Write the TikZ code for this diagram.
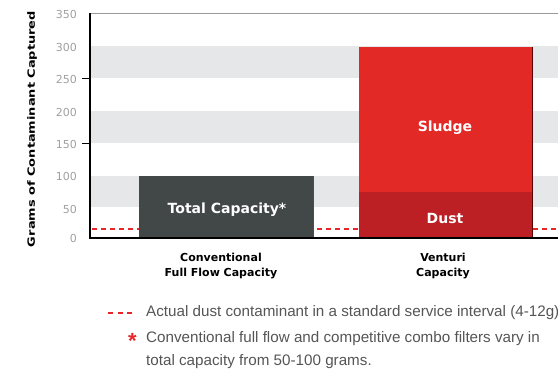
\documentclass[tikz,border=0pt]{standalone}
\usepackage{fontspec}
\setmainfont{Liberation Sans}
\newfontfamily\chartfont{DejaVu Sans}
\definecolor{band}{HTML}{E6E7E8}
\definecolor{darkbar}{HTML}{424748}
\definecolor{sludge}{HTML}{E22926}
\definecolor{dust}{HTML}{BC2024}
\definecolor{dashred}{HTML}{E8262A}
\definecolor{txt}{HTML}{555555}
\definecolor{numgray}{HTML}{A0A0A0}
\tikzset{
  bandbox/.style={fill=band,draw=none},
  barlbl/.style={font=\chartfont\bfseries\fontsize{11}{15}\selectfont,text=black,align=center,inner sep=0pt},
  inlbl/.style={font=\chartfont\bfseries\fontsize{14}{15}\selectfont,text=white,inner sep=0pt},
  numlbl/.style={font=\chartfont\fontsize{11}{12}\selectfont,text=numgray,inner sep=0pt,anchor=east},
  legtxt/.style={font=\fontsize{15.2}{16}\selectfont,text=txt,anchor=west,inner sep=0pt},
  dustline/.style={draw=dashred,line width=1.8pt,dash pattern=on 5pt off 4pt}
}
\begin{document}
\begin{tikzpicture}[x=1pt,y=-1pt]
\useasboundingbox (0,0) rectangle (558,371);
\clip (0,0) rectangle (558,371);
% bands
\fill[bandbox] (90,46) rectangle (558,78);
\fill[bandbox] (90,111) rectangle (558,143);
\fill[bandbox] (90,176) rectangle (558,207);
% top border
\draw[gray!80,line width=0.8pt] (90,13) -- (558,13);
% dust line
\draw[dustline] (92,229) -- (558,229);
% bars
\node[fill=darkbar,minimum width=175pt,minimum height=62pt,inner sep=0pt,anchor=north west] (conv) at (139,176) {};
\draw[black!70,line width=1.2pt] ([xshift=-0.6pt]conv.north east) -- ([xshift=-0.6pt]conv.south east);
\node[fill=sludge,minimum width=174pt,minimum height=145pt,inner sep=0pt,anchor=north west] (sludge) at (359,47) {};
\node[fill=dust,minimum width=174pt,minimum height=46pt,inner sep=0pt,anchor=north west] (dust) at (359,192) {};
\draw[black!65!red,line width=1.2pt] ([xshift=-0.6pt]sludge.north east) -- ([xshift=-0.6pt]dust.south east);
\node[inlbl] (tc) at (227,210) {Total Capacity*};
\node[inlbl] (sl) at (445,128) {Sludge};
\node[inlbl] (du) at (445,218) {Dust};
% axes
\draw[black,line width=1.2pt] (90,13) -- (90,238) -- (558,238);
\draw[black,line width=0.8pt] (82,78) -- (90,78);
\draw[black,line width=0.8pt] (82,143) -- (90,143);
% numbers
\node[numlbl] (n350) at (77,14) {350};
\node[numlbl] (n300) at (77,47) {300};
\node[numlbl] (n250) at (77,79) {250};
\node[numlbl] (n200) at (77,112) {200};
\node[numlbl] (n150) at (77,144) {150};
\node[numlbl] (n100) at (77,176) {100};
\node[numlbl] (n50) at (77,209) {50};
\node[numlbl] (n0) at (77,238) {0};
% y title
\node[font=\chartfont\bfseries\fontsize{10}{12}\selectfont,rotate=90,inner sep=0pt] (ytitle) at (32,129) {\resizebox{236pt}{\height}{Grams of Contaminant Captured}};
% category labels
\node[barlbl] (cl) at (221,266) {Conventional\\Full Flow Capacity};
\node[barlbl] (vl) at (443,266) {Venturi\\Capacity};
% legend
\coordinate (la) at (108,313);
\coordinate (lb) at (136,313);
\draw[draw=dashred,line width=1.8pt,dash pattern=on 5pt off 4.5pt] (la) -- (lb);
\node[legtxt] (l1) at (146,313) {Actual dust contaminant in a standard service interval (4-12g)};
\node[text=dashred,font=\bfseries\fontsize{22}{22}\selectfont,inner sep=0pt,anchor=north] (star) at (132.5,333) {*};
\node[legtxt] (l2) at (146,339) {Conventional full flow and competitive combo filters vary in};
\node[legtxt] (l3) at (146,362) {total capacity from 50-100 grams.};
\end{tikzpicture}
\end{document}
